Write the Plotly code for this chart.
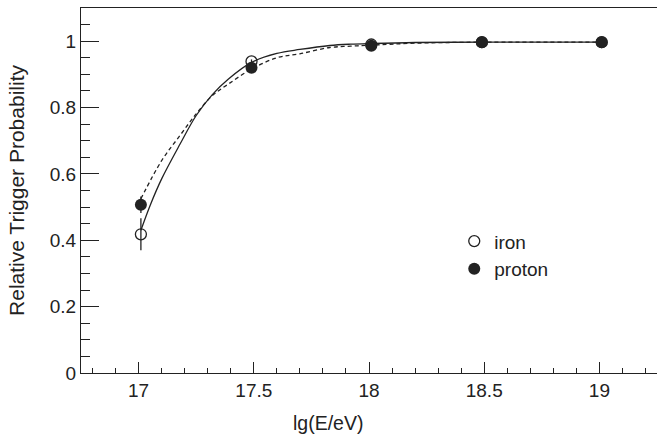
import plotly.graph_objects as go

# data points
energy = [17.01, 17.49, 18.01, 18.49, 19.01]
iron_prob = [0.418, 0.939, 0.99, 0.997, 0.997]
iron_err = [0.048, 0.006, 0.004, 0.002, 0.002]
proton_prob = [0.507, 0.920, 0.986, 0.997, 0.997]
proton_err = [0.025, 0.006, 0.004, 0.002, 0.002]

# fitted curves
iron_fit_x = [17.01, 17.05, 17.10, 17.18, 17.25, 17.32, 17.39, 17.49, 17.60, 17.70, 17.83, 17.92, 18.01, 18.20, 18.49, 18.75, 19.01]
iron_fit_y = [0.43, 0.505, 0.585, 0.69, 0.776, 0.839, 0.886, 0.936, 0.963, 0.975, 0.987, 0.991, 0.993, 0.996, 0.997, 0.997, 0.997]
proton_fit_x = [17.01, 17.10, 17.18, 17.25, 17.32, 17.39, 17.49, 17.60, 17.70, 17.83, 17.92, 18.01, 18.20, 18.49, 19.01]
proton_fit_y = [0.525, 0.64, 0.716, 0.781, 0.836, 0.871, 0.916, 0.95, 0.962, 0.981, 0.985, 0.988, 0.994, 0.997, 0.997]

x_ticks = [17, 17.5, 18, 18.5, 19]
x_tick_labels = ["17", "17.5", "18", "18.5", "19"]
y_ticks = [0, 0.2, 0.4, 0.6, 0.8, 1]
y_tick_labels = ["0", "0.2", "0.4", "0.6", "0.8", "1"]

ink = "#222222"
font = "Liberation Sans, Arial, sans-serif"

fig = go.Figure()
fig.add_trace(go.Scatter(x=iron_fit_x, y=iron_fit_y, mode="lines", line=dict(color=ink, width=1.3, shape="spline"),
                         showlegend=False, hoverinfo="skip"))
fig.add_trace(go.Scatter(x=proton_fit_x, y=proton_fit_y, mode="lines", line=dict(color=ink, width=1.3, dash="4px,3px", shape="spline"),
                         showlegend=False, hoverinfo="skip"))
fig.add_trace(go.Scatter(x=energy, y=iron_prob, mode="markers", name="iron",
                         marker=dict(symbol="circle-open", size=11, color=ink, line=dict(width=1.3, color=ink)),
                         error_y=dict(type="data", array=iron_err, width=0, color=ink, thickness=1.3)))
fig.add_trace(go.Scatter(x=energy, y=proton_prob, mode="markers", name="proton",
                         marker=dict(symbol="circle", size=12, color=ink),
                         error_y=dict(type="data", array=proton_err, width=0, color=ink, thickness=1.3)))

fig.update_layout(
    width=657, height=441,
    margin=dict(l=81, r=0, t=8, b=68),
    paper_bgcolor="white", plot_bgcolor="white",
    font=dict(family=font, size=19, color=ink),
    legend=dict(x=0.648, y=0.413, xanchor="left", yanchor="top", bgcolor="rgba(0,0,0,0)",
                font=dict(size=19, color=ink), itemwidth=30, tracegroupgap=0),
    annotations=[dict(text="lg(E/eV)", x=0.428, xref="paper", y=-0.102, yref="paper",
                      xanchor="center", yanchor="top", showarrow=False, font=dict(size=19.5, color=ink))],
)
fig.update_xaxes(range=[16.75, 19.25], tickvals=x_ticks, ticktext=x_tick_labels,
                 showgrid=False, zeroline=False, showline=True, linecolor=ink, linewidth=1.2, mirror=True,
                 ticks="inside", ticklen=11, tickwidth=1.4, tickcolor=ink,
                 minor=dict(dtick=0.1, tick0=16.8, ticks="inside", ticklen=5, tickwidth=1, tickcolor=ink),
                 tickfont=dict(size=19, color=ink), automargin=False)
fig.update_yaxes(range=[0, 1.1], tickvals=y_ticks, ticktext=y_tick_labels,
                 showgrid=False, zeroline=False, showline=True, linecolor=ink, linewidth=1.2,
                 ticks="inside", ticklen=18, tickwidth=1.4, tickcolor=ink,
                 minor=dict(dtick=0.05, tick0=0, ticks="inside", ticklen=9, tickwidth=1, tickcolor=ink),
                 tickfont=dict(size=19, color=ink), automargin=False,
                 title=dict(text="Relative Trigger Probability", font=dict(size=21, color=ink), standoff=19))

fig.write_html("out.html", config={"displayModeBar": False},
               post_script="document.body.style.margin='0';document.body.style.overflow='hidden';")
